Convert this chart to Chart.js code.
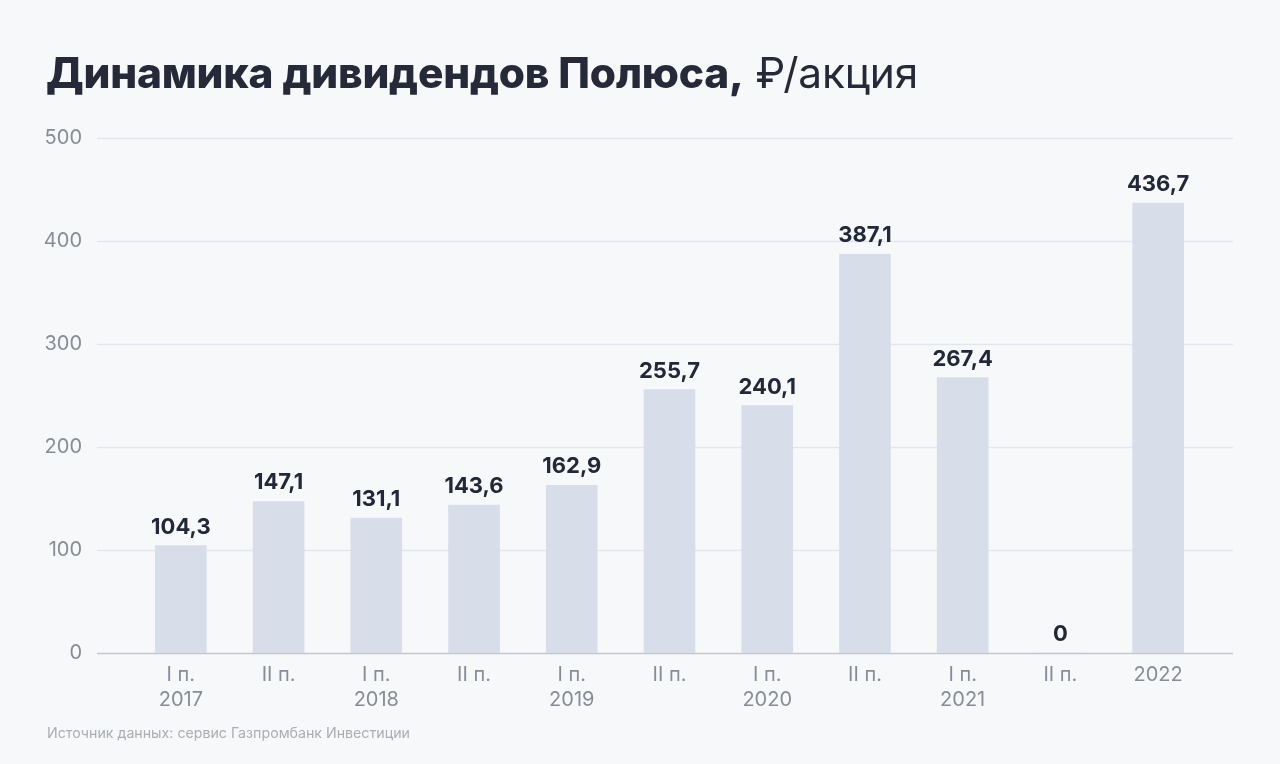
<!DOCTYPE html>
<html><head><meta charset="utf-8">
<script src="https://cdn.jsdelivr.net/npm/chart.js@4"></script>
<style>
html,body{margin:0;padding:0;background:#f7f8fa;}
#wrap{position:relative;width:1280px;height:764px;overflow:hidden;background:#f7f8fa;font-family:Inter,"Noto Sans",sans-serif;}
#title{position:absolute;left:46px;top:47px;font-size:42.4px;color:#262a38;white-space:nowrap;letter-spacing:-0.2px;}
#title b{font-weight:800;}
#title span{font-weight:400;}
#src{position:absolute;left:47px;top:724px;font-size:14.2px;color:#a9adb4;white-space:nowrap;}
canvas{position:absolute;left:0;top:0;}
</style></head>
<body><div id="wrap">
<canvas id="c" width="1280" height="764"></canvas>
<div id="title"><b>Динамика дивидендов Полюса,</b><span> ₽/акция</span></div>
<div id="src">Источник данных: сервис Газпромбанк Инвестиции</div>
</div>
<script>
const periods = ["I п.","II п.","I п.","II п.","I п.","II п.","I п.","II п.","I п.","II п.",""];
const years = ["2017","","2018","","2019","","2020","","2021","","2022"];
const dividends = [104.3,147.1,131.1,143.6,162.9,255.7,240.1,387.1,267.4,0,436.7];
const yTicks = [0,100,200,300,400,500];

const labels = periods.map((p,i)=> p ? (years[i] ? [p, years[i]] : [p]) : [years[i]]);

const gridPlugin = {
  id:'grid',
  beforeDatasetsDraw(chart){
    const ctx = chart.ctx, y = chart.scales.y;
    ctx.save();
    yTicks.forEach(v=>{
      const py = Math.round(y.getPixelForValue(v))+0.5;
      ctx.beginPath();
      ctx.strokeStyle = v===0 ? '#c3c7cd' : '#e2e6ee';
      ctx.lineWidth = 1.5;
      ctx.moveTo(97,py); ctx.lineTo(1233,py); ctx.stroke();
    });
    ctx.restore();
  }
};
const valuePlugin = {
  id:'vals',
  afterDatasetsDraw(chart){
    const ctx = chart.ctx;
    const meta = chart.getDatasetMeta(0);
    ctx.save();
    ctx.font = '700 22px Inter, "Noto Sans", sans-serif';
    ctx.fillStyle = '#232838';
    ctx.textAlign = 'center';
    ctx.textBaseline = 'alphabetic';
    meta.data.forEach((bar,i)=>{
      const txt = dividends[i].toString().replace('.',',');
      ctx.fillText(txt, bar.x, bar.y - 12);
    });
    ctx.restore();
  }
};

new Chart(document.getElementById('c'), {
  type:'bar',
  data:{labels, datasets:[{data:dividends, backgroundColor:'#d8dee9', barThickness:51, borderWidth:0}]},
  options:{
    responsive:false, animation:false,
    layout:{padding:{top:138,right:73,left:0,bottom:0}},
    plugins:{legend:{display:false},tooltip:{enabled:false}},
    scales:{
      x:{
        grid:{display:false}, border:{display:false},
        ticks:{color:'#878d96', font:{size:20, lineHeight:1.25, family:'Inter, "Noto Sans", sans-serif'}, padding:1, maxRotation:0, autoSkip:false},
        afterFit(s){ s.height = 111; }
      },
      y:{
        min:0, max:500,
        grid:{display:false}, border:{display:false},
        ticks:{stepSize:100, color:'#878d96', font:{size:20, family:'Inter, "Noto Sans", sans-serif'}, padding:42},
        afterFit(s){ s.width = 132; }
      }
    }
  },
  plugins:[gridPlugin, valuePlugin]
});
</script>
</body></html>
